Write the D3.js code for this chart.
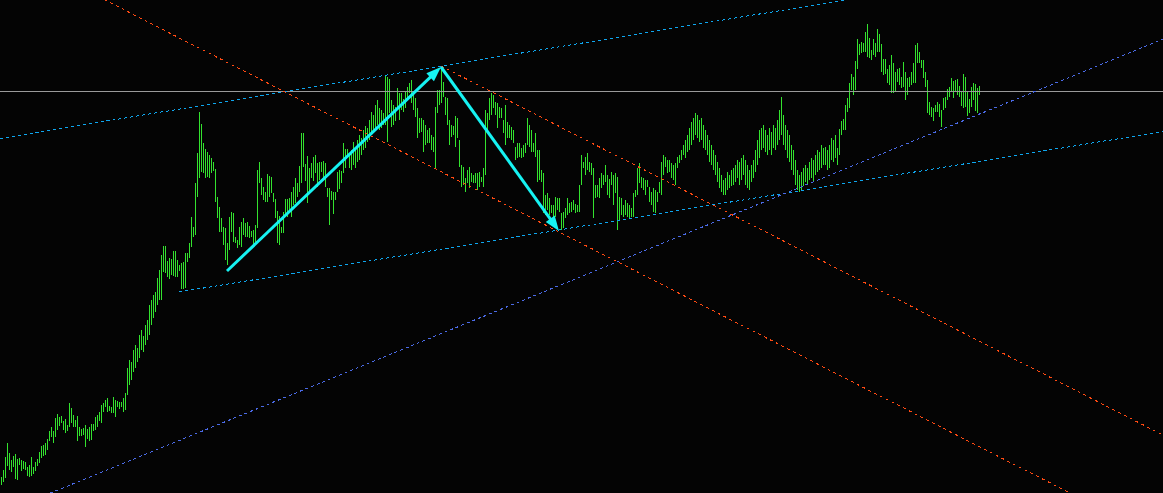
<!DOCTYPE html>
<html>
<head>
<meta charset="utf-8">
<script src="https://cdn.jsdelivr.net/npm/d3@7"></script>
<style>
  html, body { margin: 0; padding: 0; background: #040404; overflow: hidden; }
</style>
</head>
<body>
<div id="chart"></div>
<script>
// bar highs (price points), one bar per index
var highs = [
  23,30,43,57,47,40,44,46,41,42, 40,39,38,33,35,43,33,38,41,48,
  54,55,57,61,69,73,69,82,86,83, 84,79,81,75,97,92,85,80,84,73,
  71,72,75,71,73,76,76,83,85,88, 95,97,100,102,94,93,103,100,99,98,
  98,102,107,
  132,140,138,150,155,152,165,170,164,175, 180,195,200,205,208,222,230,245,254,254,
  239,242,241,249,249,240,235,237,238,247, 247,257,283,273,317,347,388,376,357,351,
  348,345,342,338,331,303,293,282,273,272, 257,283,288,287,263,260,273,278,282,277,
  278,274,269,270,275,330,338,322,313,308, 326,324,323,307,301,289,284,273,288,301,
  301,302,308,313,322,317,334,367,367,336, 344,332,337,343,345,337,338,338,339,337,
  312,312,309,308,308,328,330,329,357,351, 351,347,350,358,352,360,365,362,370,374,
  372,380,388,385,395,400,392,390,387,425, 423,421,400,395,393,412,407,407,401,408,
  413,417,420,408,402,392,382,382,380,375, 370,372,365,363,393,410,410,432,418,403,
  402,
  380,375,374,384,382,360,335,333,322,330, 333,327,325,327,327,328,323,332,390,387,
  402,407,405,398,397,393,392,380,395,378, 375,373,370,353,357,357,352,355,357,382,
  375,370,357,367,350,350,330,327,305,307, 302,295,295,303,302,302,287,288,292,302,
  297,298,300,296,295,315,345,338,343,347, 338,337,332,315,315,322,327,325,335,325,
  321,328,325,327,323,303,302,295,300,297, 295,292,307,310,332,337,323,322,320,320,
  313,308,312,310,308,318,338,345,343,340, 340,337,335,337,343,345,350,355,360,365,
  372,378,382,387,385,380,382,375,370,365, 360,355,350,345,338,332,325,320,322,328,
  325,330,332,335,340,338,342,345,340,335, 330,335,340,350,360,370,372,375,370,365,
  372,368,375,372,380,390,403,385,375,370, 365,355,350,340,330,325,328,332,335,332,
  338,342,340,345,350,348,355,352,353,350, 355,362,360,365,352,371,379,381,395,402,
  417,426,423,439,461,456,458,457,468,476, 462,450,461,457,471,466,456,441,441,431,
  435,445,437,428,431,432,423,438,428,422, 423,428,437,455,457,448,440,440,428,420,
  398,393,392,395,398,396,390,402,403,411, 413,422,419,420,421,414,408,426,423,409,
  401,413,417,416,412,414
];

// bar lows (price points)
var lows = [
  15,18,22,34,30,28,33,21,20,35, 29,31,30,24,23,24,26,29,34,37,
  42,44,45,50,59,63,57,63,70,74, 77,70,67,69,73,77,73,73,59,64,
  64,65,53,61,59,60,69,70,73,79, 77,88,93,88,89,87,87,83,93,91,
  93,88,90,
  105,115,120,128,132,138,142,150,148,155, 160,165,175,182,188,195,200,200,228,227,
  223,221,225,224,223,223,229,211,211,212, 238,242,253,263,265,303,322,328,327,322,
  323,322,327,329,298,282,268,268,255,240, 235,250,268,258,257,252,255,253,265,263,
  263,262,263,255,258,272,317,305,300,298, 298,303,307,298,282,257,255,267,267,283,
  283,287,283,295,297,303,308,317,333,319, 297,308,322,319,327,313,320,328,320,313,
  303,275,300,286,300,308,311,317,327,332, 342,332,330,335,332,338,340,345,350,352,
  358,360,365,368,372,375,370,372,375,375, 358,387,373,375,379,392,380,390,388,392,
  400,407,397,390,383,362,367,368,348,355, 357,357,350,348,332,387,395,397,403,385,
  375,
  355,363,365,353,362,333,313,315,308,317, 312,318,317,317,310,313,318,313,325,370,
  380,385,392,385,372,382,382,367,355,362, 362,360,357,340,342,343,342,343,347,355,
  353,348,348,343,318,320,318,287,285,290, 285,287,278,283,290,288,270,272,282,285,
  287,288,290,287,288,288,315,332,325,330, 328,325,282,302,303,302,312,315,318,305,
  302,315,295,307,270,280,285,283,285,283, 282,283,283,303,305,317,312,310,305,313,
  298,295,288,287,298,307,305,325,333,327, 328,322,320,315,332,337,340,345,342,348,
  350,355,360,365,362,358,360,352,350,345, 338,335,330,325,318,312,308,305,305,310,
  312,314,315,318,322,315,320,325,315,312, 310,318,322,328,335,342,350,352,348,345,
  350,345,352,350,355,360,365,355,350,342, 338,330,325,315,310,308,310,314,318,315,
  320,322,318,325,328,330,332,335,335,330, 332,340,338,342,335,345,365,370,370,388,
  392,410,405,410,431,445,447,448,448,443, 442,440,445,443,448,448,428,425,426,417,
  415,407,407,408,418,415,412,413,400,405, 413,415,417,417,437,437,432,422,413,387,
  385,383,379,388,388,383,373,390,392,400, 403,408,402,408,405,403,394,392,393,384,
  387,393,400,389,387,405
];

// horizontal level and trend objects, as [bar index, price] anchors
var levelPrice = 409;
var channelUpper = [[0, 361.7], [220, 433.8]];
var channelLower = [[89, 208], [279, 270]];
var supportLine = [[26, 8], [580, 460]];
var fallLower = [[52, 500], [534.5, 7]];
var fallUpper = [[220, 434], [580, 66]];
var arrowUp = [[113, 229], [220, 433]];
var arrowDown = [[220, 433], [279, 269]];

var width = 1163, height = 493;

var svg = d3.select("#chart")
  .append("svg")
    .attr("width", width)
    .attr("height", height)
    .style("display", "block")
    .style("background", "#040404");

// one bar every 2px
var n = highs.length;
var x = d3.scaleLinear()
  .domain([0, n - 1])
  .range([1, 1 + 2 * (n - 1)]);

var y = d3.scaleLinear()
  .domain([7, 500])
  .range([height, 0]);

var iLeft = x.invert(0), iRight = x.invert(width);

// bars
svg.append("g")
  .selectAll("rect")
  .data(highs)
  .join("rect")
    .attr("x", (d, i) => x(i))
    .attr("y", d => y(d))
    .attr("width", 1)
    .attr("height", (d, i) => Math.max(1, y(lows[i]) - y(d)))
    .attr("fill", "#33e22e")
    .attr("shape-rendering", "crispEdges");

// horizontal level
svg.append("line")
  .attr("x1", 0).attr("x2", width)
  .attr("y1", Math.round(y(levelPrice)) + 0.5).attr("y2", Math.round(y(levelPrice)) + 0.5)
  .attr("stroke", "#9a9a9a")
  .attr("stroke-width", 1)
  .attr("shape-rendering", "crispEdges");

function priceAt(line, i) {
  var a = line[0], b = line[1];
  return a[1] + (b[1] - a[1]) * (i - a[0]) / (b[0] - a[0]);
}

function trend(line, from, color, dash) {
  svg.append("line")
    .attr("x1", x(from)).attr("y1", y(priceAt(line, from)))
    .attr("x2", x(iRight)).attr("y2", y(priceAt(line, iRight)))
    .attr("stroke", color)
    .attr("stroke-width", 1)
    .attr("stroke-dasharray", dash)
    .attr("shape-rendering", "crispEdges");
}

trend(channelUpper, iLeft, "#0ea6ee", "3,3");
trend(channelLower, channelLower[0][0], "#0ea6ee", "3,3");
trend(supportLine, iLeft, "#4a6ae6", "3,3");
trend(fallLower, iLeft, "#ff4a12", "3,3.5");
trend(fallUpper, fallUpper[0][0], "#ff4a12", "3,3.5");

// arrows
function arrow(a) {
  var x1 = x(a[0][0]), y1 = y(a[0][1]), x2 = x(a[1][0]), y2 = y(a[1][1]);
  var ang = Math.atan2(y2 - y1, x2 - x1), len = 15, half = 5.5;
  var cx = Math.cos(ang), sy = Math.sin(ang);
  var bx = x2 - len * cx, by = y2 - len * sy;
  svg.append("line")
    .attr("x1", x1).attr("y1", y1)
    .attr("x2", bx + 4 * cx).attr("y2", by + 4 * sy)
    .attr("stroke", "#16f2f2")
    .attr("stroke-width", 3);
  svg.append("path")
    .attr("d", "M" + x2 + "," + y2 +
      "L" + (bx - half * sy) + "," + (by + half * cx) +
      "L" + (bx + half * sy) + "," + (by - half * cx) + "Z")
    .attr("fill", "#16f2f2");
}

arrow(arrowUp);
arrow(arrowDown);
</script>
</body>
</html>
